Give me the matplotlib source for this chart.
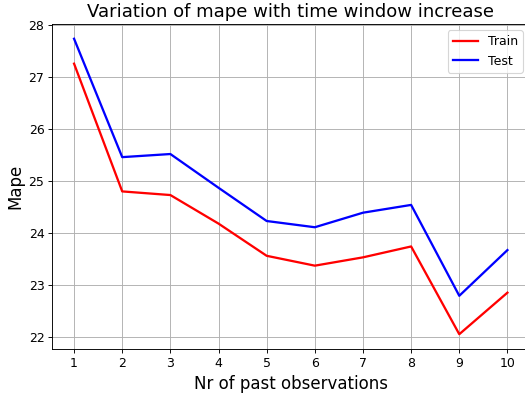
import matplotlib
matplotlib.use("Agg")
import matplotlib.pyplot as plt

x = [1, 2, 3, 4, 5, 6, 7, 8, 9, 10]
train = [27.26, 24.80, 24.73, 24.18, 23.56, 23.37, 23.53, 23.74, 22.05, 22.85]
test = [27.74, 25.46, 25.52, 24.87, 24.23, 24.11, 24.39, 24.54, 22.79, 23.67]

DPI = 82
fig = plt.figure(figsize=(525 / DPI, 393 / DPI), dpi=DPI)
ax = fig.add_axes([0.0998, 0.112, 0.908, 0.827])
ax.plot(x, train, color="red", linewidth=2, label="Train")
ax.plot(x, test, color="blue", linewidth=2, label="Test")
ax.set_xticks(x)
ax.set_yticks([22, 23, 24, 25, 26, 27, 28])
ax.grid(True, color="#b0b0b0", linewidth=0.8)
ax.set_title("Variation of mape with time window increase", fontsize=15.8)
ax.set_xlabel("Nr of past observations", fontsize=14.6)
ax.set_ylabel("Mape", fontsize=14.6)
ax.tick_params(labelsize=11)
ax.legend(loc="upper right", fontsize=11)
fig.savefig("out.png", dpi=DPI)
